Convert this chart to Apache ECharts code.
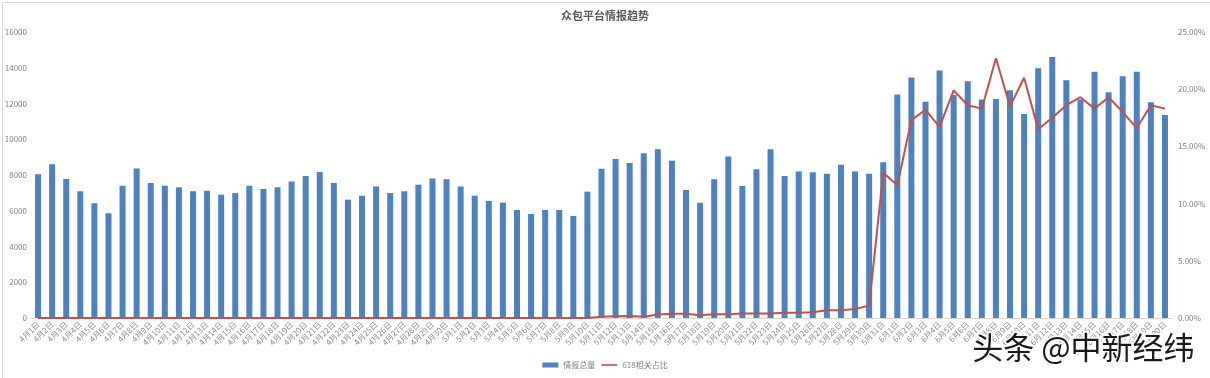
<!DOCTYPE html>
<html>
<head>
<meta charset="utf-8">
<script src="https://cdn.jsdelivr.net/npm/echarts@6/dist/echarts.min.js"></script>
<style>
html,body{margin:0;padding:0;background:#fff;}
#c{width:1210px;height:378px;}
</style>
</head>
<body>
<div id="c"></div>
<script>
const titleText = '众包平台情报趋势';
const seriesNames = ['情报总量', '618相关占比'];
const categories = [];
for (let d = 1; d <= 30; d++) categories.push('4月' + d + '日');
for (let d = 1; d <= 31; d++) categories.push('5月' + d + '日');
for (let d = 1; d <= 20; d++) categories.push('6月' + d + '日');

const totals = [
  // April
  8040, 8600, 7780, 7090, 6420, 5860, 7400, 8370, 7550, 7400,
  7310, 7090, 7120, 6900, 6990, 7400, 7220, 7310, 7630, 7940,
  8170, 7550, 6620, 6840, 7350, 6990, 7090, 7460, 7810, 7760,
  // May
  7350, 6840, 6550, 6450, 6040, 5820, 6040, 6040, 5710, 7070,
  8350, 8900, 8670, 9210, 9440, 8800, 7160, 6450, 7760, 9040,
  7390, 8320, 9440, 7940, 8200, 8150, 8070, 8580, 8200, 8070,
  8710,
  // June
  12510, 13460, 12100, 13840, 12480, 13240, 12230, 12250, 12740, 11410,
  13970, 14600, 13300, 12230, 13780, 12630, 13520, 13780, 12070, 11360
];

const ratios = [
  // April
  0, 0, 0, 0, 0, 0, 0, 0, 0, 0,
  0, 0, 0, 0, 0, 0, 0, 0, 0, 0,
  0, 0, 0, 0, 0, 0, 0, 0, 0, 0,
  // May
  0, 0, 0, 0, 0, 0, 0, 0, 0, 0,
  0.0010, 0.0015, 0.0017, 0.0010, 0.0030, 0.0038, 0.0038, 0.0025, 0.0033, 0.0033,
  0.0040, 0.0040, 0.0040, 0.0045, 0.0045, 0.0050, 0.0067, 0.0067, 0.0079, 0.0108,
  0.127,
  // June
  0.116, 0.173, 0.182, 0.167, 0.199, 0.186, 0.183, 0.227, 0.185, 0.210,
  0.165, 0.175, 0.186, 0.193, 0.183, 0.193, 0.180, 0.166, 0.186, 0.183
];

const leftTicks = { min: 0, max: 16000, interval: 2000 };
const rightTicks = { min: 0, max: 0.25, interval: 0.05 };

const chart = echarts.init(document.getElementById('c'), null, { renderer: 'canvas' });
const font = '"Microsoft YaHei","Noto Sans CJK SC","Liberation Sans",sans-serif';
chart.setOption({
  animation: false,
  backgroundColor: '#fff',
  textStyle: { fontFamily: font },
  title: {
    text: titleText, left: 'center', top: 5,
    textStyle: { fontSize: 11, fontWeight: 'bold', color: '#595959', fontFamily: font }
  },
  legend: {
    bottom: 4, left: 'center',
    itemWidth: 16, itemHeight: 5, itemGap: 6,
    textStyle: { fontSize: 8, color: '#7f7f7f' },
    data: [
      { name: seriesNames[0], icon: 'rect' },
      { name: seriesNames[1], icon: 'path://M0,4 L20,4 L20,6 L0,6 Z' }
    ]
  },
  grid: { left: 31, right: 38, top: 32, bottom: 60, containLabel: false },
  xAxis: {
    type: 'category', data: categories,
    axisLine: { lineStyle: { color: '#d9d9d9' } },
    axisTick: { show: false },
    axisLabel: { interval: 0, rotate: 45, fontSize: 8, color: '#8c8c8c', margin: 5 }
  },
  yAxis: [
    {
      type: 'value', min: leftTicks.min, max: leftTicks.max, interval: leftTicks.interval,
      axisLine: { show: false }, axisTick: { show: false }, splitLine: { show: false },
      axisLabel: { fontSize: 8, color: '#7f7f7f', margin: 4, formatter: v => String(v) }
    },
    {
      type: 'value', min: rightTicks.min, max: rightTicks.max, interval: rightTicks.interval,
      axisLine: { show: false }, axisTick: { show: false }, splitLine: { show: false },
      axisLabel: { fontSize: 8, color: '#7f7f7f', margin: 6,
        formatter: v => (v * 100).toFixed(2) + '%' }
    }
  ],
  series: [
    {
      name: seriesNames[0], type: 'bar', data: totals, barWidth: 6,
      itemStyle: { color: '#4f81bd' }
    },
    {
      name: seriesNames[1], type: 'line', yAxisIndex: 1, data: ratios,
      symbol: 'none', lineStyle: { color: '#c0504d', width: 2 },
      itemStyle: { color: '#c0504d' }
    }
  ],
  graphic: [
    { type: 'rect', left: 0, top: 0, z: -1,
      shape: { width: 1209, height: 376 },
      style: { fill: null, stroke: '#d9d9d9', lineWidth: 1 } },
    { type: 'text', right: 14, bottom: 14, z: 100,
      style: { text: '头条 @中新经纬', fontSize: 31, fontFamily: font, fill: '#1a1a1a',
        stroke: '#ffffff', lineWidth: 3 } }
  ]
});
</script>
</body>
</html>
